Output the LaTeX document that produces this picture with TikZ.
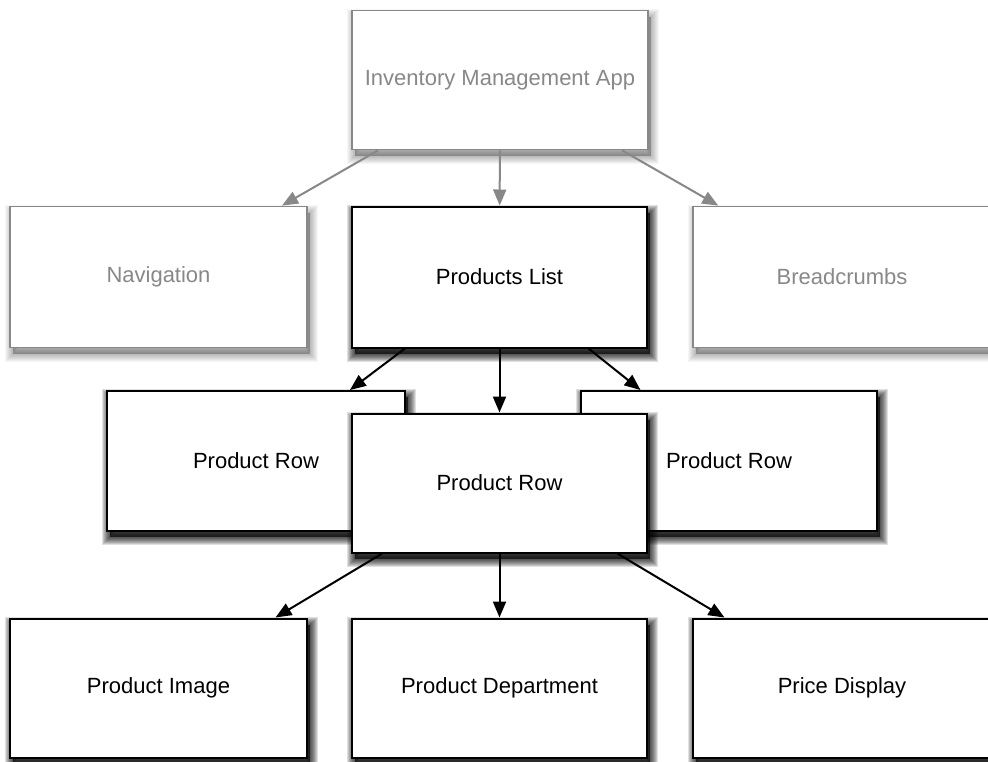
\documentclass[tikz,border=0pt]{standalone}
\usepackage{fontspec}
\setmainfont{Liberation Sans}
\usetikzlibrary{arrows.meta,shadows}
\definecolor{softgray}{RGB}{136,136,136}
\tikzset{
  shadelayer/.style 2 args={general shadow={shadow xshift=3pt, shadow yshift=-6pt, fill=black, draw=black, line width=#1, opacity=#2}},
  darkshade/.style={
    shadelayer={16pt}{0.12}, shadelayer={14pt}{0.12}, shadelayer={12pt}{0.12}, shadelayer={10pt}{0.12},
    shadelayer={8pt}{0.12}, shadelayer={6pt}{0.12}, shadelayer={4pt}{0.12}, shadelayer={2pt}{0.12}},
  lightshade/.style={
    shadelayer={16pt}{0.035}, shadelayer={14pt}{0.035}, shadelayer={12pt}{0.035}, shadelayer={10pt}{0.035},
    shadelayer={8pt}{0.035}, shadelayer={6pt}{0.035}, shadelayer={4pt}{0.035}, shadelayer={2pt}{0.035}},
  compbox/.style={darkshade, draw=black, line width=2pt, fill=white, inner sep=0pt,
    minimum width=295pt, minimum height=139pt,
    font=\fontsize{22}{26}\selectfont, text=black},
  greybox/.style={lightshade, draw=softgray, line width=1.8pt, fill=white, inner sep=0pt,
    minimum width=295pt, minimum height=139pt,
    font=\fontsize{22}{26}\selectfont, text=softgray},
  blackarrow/.style={draw=black, line width=2pt, -{Triangle[length=16pt,width=13pt]}},
  greyarrow/.style={draw=softgray, line width=2pt, -{Triangle[length=16pt,width=13pt]}}
}
\begin{document}
\begin{tikzpicture}[x=1pt,y=-1pt]
\useasboundingbox (0,0) rectangle (988,761);
\fill[white] (0,0) rectangle (988,761);
\node[greybox, minimum width=296pt] (app) at (500,80) {Inventory Management App};
\node[greybox, minimum width=297pt, minimum height=141pt] (nav) at (158.5,277) {Navigation};
\node[compbox, minimum height=141pt] (plist) at (499.5,277) {Products List};
\node[greybox, minimum width=298pt, minimum height=141pt] (bread) at (842,277) {Breadcrumbs};
\node[compbox, minimum width=298pt, minimum height=140pt] (rowL) at (256,461) {Product Row};
\node[compbox, minimum width=296pt, minimum height=140pt] (rowR) at (729,461) {Product Row};
\node[compbox] (rowC) at (499.5,483) {Product Row};
\node[compbox, minimum width=297pt] (img) at (158.5,688) {Product Image};
\node[compbox] (dept) at (499.5,688) {Product Department};
\node[compbox, minimum width=298pt] (price) at (842,688) {Price Display};
\draw[greyarrow] (app) -- (nav);
\draw[greyarrow] (app) -- (plist);
\draw[greyarrow] (app) -- (bread);
\draw[blackarrow] (plist) -- (rowL);
\draw[blackarrow] (plist) -- (rowC);
\draw[blackarrow] (plist) -- (rowR);
\draw[blackarrow] (rowC) -- (img);
\draw[blackarrow] (rowC) -- (dept);
\draw[blackarrow] (rowC) -- (price);
\end{tikzpicture}
\end{document}
